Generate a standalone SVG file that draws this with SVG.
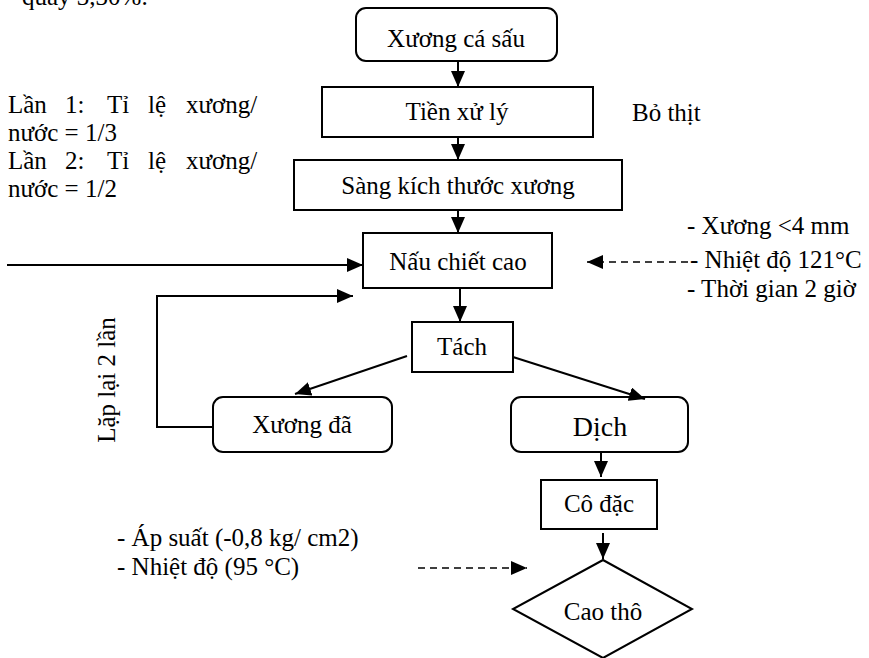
<svg xmlns="http://www.w3.org/2000/svg" width="869" height="658" viewBox="0 0 869 658">
<defs>
<marker id="ah" markerUnits="userSpaceOnUse" markerWidth="16" markerHeight="14" refX="16" refY="7" orient="auto">
<path d="M0,0 L16,7 L0,14 Z" fill="#000"/>
</marker>
<style>
text{font-size:25px;fill:#000}
.c{text-anchor:middle}
.box{fill:#fff;stroke:#000;stroke-width:2}
.ln{fill:none;stroke:#000;stroke-width:2}
.da{fill:none;stroke:#000;stroke-width:1.5;stroke-dasharray:7,5}
</style>
</defs>
<rect width="869" height="658" fill="#fff"/>
<g font-family="Liberation Serif, DejaVu Serif, serif">
<text x="22" y="5">quảy 3,30%.</text>

<g id="n1"><rect class="box" x="356" y="8" width="201" height="53" rx="10"/><text class="c" x="456" y="47">Xương cá sấu</text></g>
<g id="n2"><rect class="box" x="322" y="87" width="271" height="50"/><text class="c" x="457" y="120">Tiền xử lý</text></g>
<g id="n3"><rect class="box" x="294" y="160" width="328" height="50"/><text class="c" x="458" y="194">Sàng kích thước xương</text></g>
<g id="n4"><rect class="box" x="363" y="233" width="189" height="55"/><text class="c" x="458" y="270">Nấu chiết cao</text></g>
<g id="n5"><rect class="box" x="412" y="322" width="101" height="50"/><text class="c" x="462" y="355">Tách</text></g>
<g id="n6"><rect class="box" x="213" y="397" width="179" height="55" rx="10"/><text class="c" x="302" y="433">Xương đã</text></g>
<g id="n7"><rect class="box" x="511" y="397" width="177" height="55" rx="10"/><text class="c" x="600" y="436" style="font-size:28px">Dịch</text></g>
<g id="n8"><rect class="box" x="541" y="480" width="116" height="49"/><text class="c" x="599" y="512">Cô đặc</text></g>
<g id="n9"><polygon class="box" points="603,560 692,609 603,658 513,609"/><text class="c" x="603" y="620">Cao thô</text></g>

<g id="labels">
<text x="8" y="113">Lần</text><text x="65" y="113">1:</text><text x="107" y="113">Tỉ</text><text x="148" y="113">lệ</text><text x="186" y="113">xương/</text>
<text x="8" y="141">nước = 1/3</text>
<text x="8" y="169">Lần</text><text x="65" y="169">2:</text><text x="107" y="169">Tỉ</text><text x="148" y="169">lệ</text><text x="186" y="169">xương/</text>
<text x="8" y="197">nước = 1/2</text>
<text x="632" y="121">Bỏ thịt</text>
<text x="687" y="234">- Xương &lt;4 mm</text>
<text x="690" y="268">- Nhiệt độ 121°C</text>
<text x="687" y="297">- Thời gian 2 giờ</text>
<text x="117" y="546">- Áp suất (-0,8 kg/ cm2)</text>
<text x="117" y="575">- Nhiệt độ (95 °C)</text>
<text class="c" transform="translate(115,380) rotate(-90)">Lặp lại 2 lần</text>
</g>
</g>

<g id="connectors">
<line class="ln" x1="458" y1="61" x2="458" y2="87" marker-end="url(#ah)"/>
<line class="ln" x1="458" y1="137" x2="458" y2="160" marker-end="url(#ah)"/>
<line class="ln" x1="458" y1="210" x2="458" y2="233" marker-end="url(#ah)"/>
<line class="ln" x1="7" y1="265" x2="363" y2="265" marker-end="url(#ah)"/>
<polyline class="ln" points="213,427 157,427 157,296 353,296" marker-end="url(#ah)"/>
<line class="ln" x1="460" y1="288" x2="460" y2="322" marker-end="url(#ah)"/>
<line class="ln" x1="407" y1="356" x2="295" y2="394" marker-end="url(#ah)"/>
<line class="ln" x1="513" y1="357" x2="645" y2="399" marker-end="url(#ah)"/>
<line class="ln" x1="601" y1="452" x2="601" y2="477" marker-end="url(#ah)"/>
<line class="ln" x1="603" y1="533" x2="603" y2="559" marker-end="url(#ah)"/>
<line class="da" x1="688" y1="262" x2="587" y2="262" marker-end="url(#ah)"/>
<line class="da" x1="418" y1="568" x2="527" y2="568" marker-end="url(#ah)"/>
</g>
</svg>
